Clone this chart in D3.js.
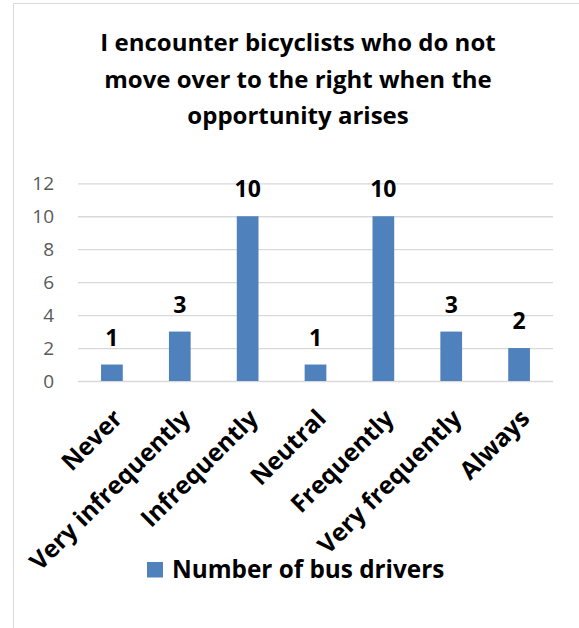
<!DOCTYPE html>
<html>
<head>
<meta charset="utf-8">
<script src="https://cdn.jsdelivr.net/npm/d3@7/dist/d3.min.js"></script>
<style>
  html, body { margin: 0; padding: 0; background: #fff; }
  svg { display: block; }
  text { font-family: "Open Sans", sans-serif; }
</style>
</head>
<body>
<svg id="chart" width="579" height="628"></svg>
<script>
const titleLines = ["I encounter bicyclists who do not", "move over to the right when the", "opportunity arises"];
const categories = ["Never", "Very infrequently", "Infrequently", "Neutral", "Frequently", "Very frequently", "Always"];
const values = [1, 3, 10, 1, 10, 3, 2];
const yTicks = [0, 2, 4, 6, 8, 10, 12];
const seriesName = "Number of bus drivers";

const svg = d3.select("#chart");
const W = 579, H = 628;
const plot = { left: 78, right: 553, top: 183.3, bottom: 381 };
const barColor = "#4F81BD";
const FONT = "'Open Sans', sans-serif";

// outer border
svg.append("rect")
  .attr("x", 13.5).attr("y", 3.5)
  .attr("width", W).attr("height", H)
  .attr("fill", "#fff").attr("stroke", "#D9D9D9").attr("stroke-width", 1);

// title
svg.append("text")
  .attr("text-anchor", "middle")
  .attr("font-weight", "bold")
  .attr("font-size", 24)
  .attr("fill", "#000")
  .selectAll("tspan").data(titleLines).join("tspan")
  .attr("x", 298)
  .attr("y", (d, i) => 51 + i * 36.5)
  .text(d => d);

const x = d3.scaleBand().domain(categories).range([plot.left, plot.right]).paddingInner(0.68).paddingOuter(0.34);
const y = d3.scaleLinear().domain([0, 12]).range([plot.bottom, plot.top]);

// gridlines + y labels
const yAxis = d3.axisLeft(y).tickValues(yTicks).tickSize(-(plot.right - plot.left)).tickPadding(24);
const gy = svg.append("g").attr("transform", `translate(${plot.left},0)`).call(yAxis);
gy.select(".domain").remove();
gy.selectAll(".tick line").attr("stroke", "#D9D9D9").attr("stroke-width", 1.3);
gy.selectAll(".tick text")
  .attr("fill", "#595959")
  .attr("font-size", 19)
  .attr("font-family", FONT);

// bars
svg.append("g").selectAll("rect").data(values).join("rect")
  .attr("x", (d, i) => x(categories[i]))
  .attr("width", x.bandwidth())
  .attr("y", d => y(d))
  .attr("height", d => y(0) - y(d))
  .attr("fill", barColor);

// value labels
svg.append("g").selectAll("text").data(values).join("text")
  .attr("x", (d, i) => x(categories[i]) + x.bandwidth() / 2)
  .attr("y", d => y(d) - 19)
  .attr("text-anchor", "middle")
  .attr("font-weight", "bold")
  .attr("font-size", 23)
  .attr("fill", "#000")
  .text(d => d);

// x labels
svg.append("g").selectAll("text").data(categories).join("text")
  .attr("transform", d => `translate(${x(d) + x.bandwidth() / 2 + 12},420) rotate(-45)`)
  .attr("text-anchor", "end")
  .attr("font-weight", "bold")
  .attr("font-size", 24.5)
  .attr("fill", "#000")
  .text(d => d);

// legend
const lg = svg.append("g");
lg.append("rect").attr("x", 147).attr("y", 562).attr("width", 16).attr("height", 15.5).attr("fill", barColor);
lg.append("text").attr("x", 172).attr("y", 577.5)
  .attr("font-weight", "bold").attr("font-size", 24.3).attr("fill", "#000")
  .text(seriesName);
</script>
</body>
</html>
